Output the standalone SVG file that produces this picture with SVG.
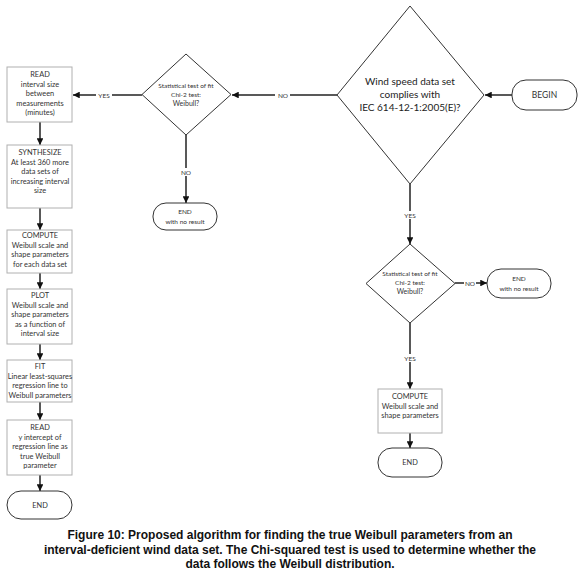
<svg xmlns="http://www.w3.org/2000/svg" width="580" height="573" viewBox="0 0 580 573">
<defs>
<marker id="ah" viewBox="0 0 10 10" refX="10" refY="5" markerWidth="4.5" markerHeight="4.5" orient="auto" markerUnits="strokeWidth"><path d="M0,0 L10,5 L0,10 z" fill="#111"/></marker>
</defs>
<style>
.box{fill:#fff;stroke:#b0b0b0;stroke-width:1}
.term{fill:#fff;stroke:#333;stroke-width:1}
.dia{fill:#fff;stroke:#333;stroke-width:1}
.t{font-family:Lato,"Liberation Sans",sans-serif;font-size:7.4px;fill:#333;text-anchor:middle}
.lbl{font-family:Lato,"Liberation Sans",sans-serif;font-size:6.5px;fill:#333;text-anchor:middle}
.c{stroke:#222;stroke-width:1.5;fill:none;marker-end:url(#ah)}
.cap{font-family:"Liberation Sans",Arial,sans-serif;font-size:12px;font-weight:bold;fill:#111;text-anchor:middle}
</style>
<rect width="580" height="573" fill="#fff"/>
<g id="connectors">
<line class="c" x1="512" y1="95" x2="485" y2="95"/>
<line class="c" x1="337" y1="95" x2="232" y2="95"/>
<line class="c" x1="142" y1="95" x2="73" y2="95"/>
<line class="c" x1="186" y1="135" x2="186" y2="203"/>
<line class="c" x1="410" y1="184" x2="410" y2="244"/>
<line class="c" x1="455" y1="283" x2="487" y2="283"/>
<line class="c" x1="410" y1="323" x2="410" y2="389"/>
<line class="c" x1="410" y1="433" x2="410" y2="448"/>
<line class="c" x1="40" y1="122" x2="40" y2="145"/>
<line class="c" x1="40" y1="208" x2="40" y2="230"/>
<line class="c" x1="40" y1="273" x2="40" y2="289"/>
<line class="c" x1="40" y1="344" x2="40" y2="360"/>
<line class="c" x1="40" y1="402" x2="40" y2="420"/>
<line class="c" x1="40" y1="475" x2="40" y2="491"/>
<rect x="275" y="91" width="15" height="8" fill="#fff"/><text class="lbl" x="283" y="97.5">NO</text>
<rect x="96" y="91" width="16" height="8" fill="#fff"/><text class="lbl" x="104" y="97.5">YES</text>
<rect x="180" y="168" width="12" height="8" fill="#fff"/><text class="lbl" x="186" y="174.5">NO</text>
<rect x="403" y="211" width="14" height="8" fill="#fff"/><text class="lbl" x="410" y="217.5">YES</text>
<rect x="464" y="279" width="12" height="8" fill="#fff"/><text class="lbl" x="470" y="285.5">NO</text>
<rect x="403" y="354" width="14" height="8" fill="#fff"/><text class="lbl" x="410" y="360.5">YES</text>
</g>
<g id="begin"><rect class="term" x="512" y="80" width="65" height="30" rx="14"/><text class="t" x="544.5" y="98" style="font-size:8.5px">BEGIN</text></g>
<g id="d-iec"><polygon class="dia" points="410,6 484,95 410,184 337,95"/>
<text class="t" x="410" y="85" style="font-size:10px;fill:#222">Wind speed data set</text>
<text class="t" x="410" y="98" style="font-size:10px;fill:#222">complies with</text>
<text class="t" x="410" y="111" style="font-size:10px;fill:#222">IEC 614-12-1:2005(E)?</text></g>
<g id="d-fit1"><polygon class="dia" points="186,54 231,94.5 186,135 142,94.5"/>
<text class="t" x="186" y="88" style="font-size:6.5px">Statistical test of fit</text>
<text class="t" x="186" y="97" style="font-size:6.5px">Chi-2 test:</text>
<text class="t" x="186" y="106" style="font-size:7px">Weibull?</text></g>
<g id="end1"><rect class="term" x="153" y="203" width="64" height="27" rx="13"/><text class="t" x="185" y="214" style="font-size:6.5px">END</text><text class="t" x="185" y="224" style="font-size:6.5px">with no result</text></g>
<g id="d-fit2"><polygon class="dia" points="410,244 455,283.5 410,323 366,283.5"/>
<text class="t" x="410" y="276" style="font-size:6.5px">Statistical test of fit</text>
<text class="t" x="410" y="285" style="font-size:6.5px">Chi-2 test:</text>
<text class="t" x="410" y="294" style="font-size:7px">Weibull?</text></g>
<g id="end2"><rect class="term" x="487" y="269" width="64" height="29" rx="14"/><text class="t" x="519" y="281" style="font-size:6.5px">END</text><text class="t" x="519" y="291" style="font-size:6.5px">with no result</text></g>
<g id="compute2"><rect class="box" x="378" y="389" width="64" height="44"/><text class="t" x="410" y="399">COMPUTE</text><text class="t" x="410" y="408.5">Weibull scale and</text><text class="t" x="410" y="418">shape parameters</text></g>
<g id="end3"><rect class="term" x="378" y="448" width="64" height="29" rx="14"/><text class="t" x="410" y="465">END</text></g>
<g id="read1"><rect class="box" x="7" y="67" width="65" height="55"/><text class="t" x="40" y="77">READ</text><text class="t" x="40" y="86.5">interval size</text><text class="t" x="40" y="96">between</text><text class="t" x="40" y="105.5">measurements</text><text class="t" x="40" y="115">(minutes)</text></g>
<g id="synth"><rect class="box" x="7" y="145" width="65" height="63"/><text class="t" x="40" y="155">SYNTHESIZE</text><text class="t" x="40" y="164.5">At least 360 more</text><text class="t" x="40" y="174">data sets of</text><text class="t" x="40" y="183.5">increasing interval</text><text class="t" x="40" y="193">size</text></g>
<g id="compute1"><rect class="box" x="7" y="230" width="65" height="43"/><text class="t" x="40" y="238">COMPUTE</text><text class="t" x="40" y="247.5">Weibull scale and</text><text class="t" x="40" y="257">shape parameters</text><text class="t" x="40" y="266.5">for each data set</text></g>
<g id="plot"><rect class="box" x="7" y="289" width="65" height="55"/><text class="t" x="40" y="298">PLOT</text><text class="t" x="40" y="307.5">Weibull scale and</text><text class="t" x="40" y="317">shape parameters</text><text class="t" x="40" y="326.5">as a function of</text><text class="t" x="40" y="336">interval size</text></g>
<g id="fit"><rect class="box" x="7" y="360" width="65" height="42"/><text class="t" x="40" y="369">FIT</text><text class="t" x="40" y="378.5">Linear least-squares</text><text class="t" x="40" y="388">regression line to</text><text class="t" x="40" y="397.5">Weibull parameters</text></g>
<g id="read2"><rect class="box" x="7" y="420" width="65" height="55"/><text class="t" x="40" y="430">READ</text><text class="t" x="40" y="439.5">y intercept of</text><text class="t" x="40" y="449">regression line as</text><text class="t" x="40" y="458.5">true Weibull</text><text class="t" x="40" y="468">parameter</text></g>
<g id="end4"><rect class="term" x="7" y="491" width="65" height="28" rx="14"/><text class="t" x="40" y="508">END</text></g>
<g id="caption">
<text class="cap" x="290" y="539">Figure 10: Proposed algorithm for finding the true Weibull parameters from an</text>
<text class="cap" x="290" y="553.5">interval-deficient wind data set. The Chi-squared test is used to determine whether the</text>
<text class="cap" x="290" y="568">data follows the Weibull distribution.</text>
</g>
</svg>
